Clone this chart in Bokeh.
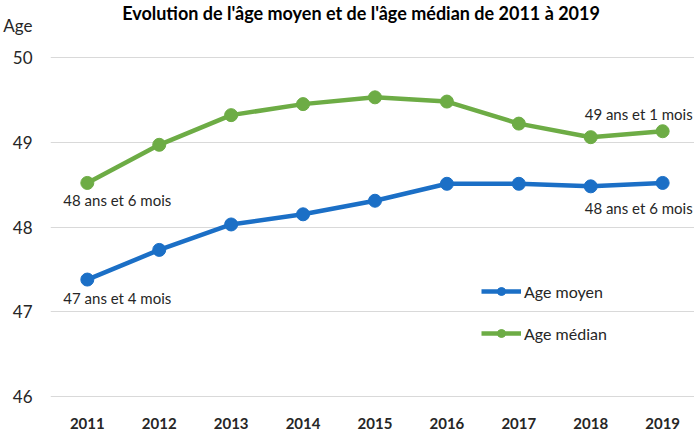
from bokeh.plotting import figure
from bokeh.models import Legend, LegendItem, Label, Range1d, FixedTicker, ColumnDataSource
from bokeh.core.properties import value
from bokeh.embed import file_html
from bokeh.resources import INLINE

# ---- data ----
years = [2011, 2012, 2013, 2014, 2015, 2016, 2017, 2018, 2019]
age_moyen = [47.38, 47.73, 48.03, 48.15, 48.31, 48.51, 48.51, 48.48, 48.52]
age_median = [48.52, 48.97, 49.32, 49.45, 49.53, 49.48, 49.22, 49.06, 49.13]
y_ticks = [46, 47, 48, 49, 50]
chart_title = "Evolution de l'âge moyen et de l'âge médian de 2011 à 2019"
y_title = "Age"
series_names = ["Age moyen", "Age médian"]
moyen_labels = ["47 ans et 4 mois", "48 ans et 6 mois"]
median_labels = ["48 ans et 6 mois", "49 ans et 1 mois"]

FONT = "Lato"
BLUE = "#1b6fc6"
GREEN = "#6dac45"
TXT = "#262626"

Y_TOP = 50.6726          # frame reaches the top edge of the canvas
AGE_POS = 50.378         # height where the "Age" axis title sits
TITLE_POS = 50.531

p = figure(width=694, height=432, output_backend="svg", toolbar_location=None, title=None,
           x_range=Range1d(2010.488, 2019.443), y_range=Range1d(45.835, Y_TOP),
           min_border_left=47, min_border_right=0, min_border_top=0, min_border_bottom=22)
p.outline_line_color = None
p.xgrid.visible = False
p.ygrid.ticker = FixedTicker(ticks=y_ticks)
p.ygrid.grid_line_color = "#d9d9d9"
p.ygrid.grid_line_width = 1

# y axis: numeric ticks plus the "Age" title shown as a label above them
p.yaxis.ticker = FixedTicker(ticks=y_ticks + [AGE_POS])
p.yaxis.major_label_overrides = {AGE_POS: y_title}
p.xaxis.ticker = FixedTicker(ticks=years)
for ax in (p.xaxis, p.yaxis):
    ax.axis_line_color = None
    ax.major_tick_line_color = None
    ax.minor_tick_line_color = None
    ax.major_label_text_font = FONT
    ax.major_label_text_color = TXT
p.yaxis.major_label_text_font_size = "17px"
p.yaxis.major_label_standoff = 12
p.xaxis.major_label_text_font_size = "15px"
p.xaxis.major_label_text_font_style = "bold"
p.xaxis.major_label_standoff = 1

src = ColumnDataSource(dict(x=years, moy=age_moyen, med=age_median))
l1 = p.line("x", "moy", source=src, line_color=BLUE, line_width=4.5)
s1 = p.scatter("x", "moy", source=src, size=13, fill_color=BLUE, line_color=BLUE)
l2 = p.line("x", "med", source=src, line_color=GREEN, line_width=4.5)
s2 = p.scatter("x", "med", source=src, size=13, fill_color=GREEN, line_color=GREEN)

# data labels
lab_kw = dict(text_font=value(FONT), text_font_size="15px", text_color=TXT, text_baseline="middle")
p.text(x=[years[0]], y=[age_moyen[0]], text=[moyen_labels[0]], text_align="left",
       x_offset=-24, y_offset=18, **lab_kw)
p.text(x=[years[0]], y=[age_median[0]], text=[median_labels[0]], text_align="left",
       x_offset=-24, y_offset=17, **lab_kw)
p.text(x=[years[-1]], y=[age_moyen[-1]], text=[moyen_labels[1]], text_align="right",
       x_offset=30, y_offset=25, **lab_kw)
p.text(x=[years[-1]], y=[age_median[-1]], text=[median_labels[1]], text_align="right",
       x_offset=30, y_offset=-17, **lab_kw)

# chart title inside the (extended) frame
p.add_layout(Label(x=2014.806, y=TITLE_POS, text=chart_title, text_font=FONT,
                   text_font_size="18px", text_font_style="bold", text_align="center",
                   text_baseline="middle", text_color="#000000"))

legend = Legend(items=[LegendItem(label=series_names[0], renderers=[l1, s1]),
                       LegendItem(label=series_names[1], renderers=[l2, s2])],
                location=(431, 67), glyph_width=40, glyph_height=20, label_height=20,
                spacing=22, padding=0, margin=0, label_standoff=3,
                label_text_font=FONT, label_text_font_size="16px", label_text_color=TXT,
                border_line_alpha=0, background_fill_alpha=0)
p.add_layout(legend)

open("out.html", "w").write(file_html(p, INLINE))
